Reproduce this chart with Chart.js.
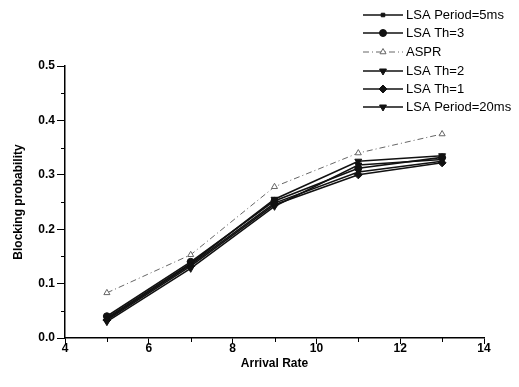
<!DOCTYPE html>
<html>
<head>
<meta charset="utf-8">
<script src="https://cdn.jsdelivr.net/npm/chart.js@4/dist/chart.umd.min.js"></script>
<style>
  html, body { margin: 0; padding: 0; background: #fff; }
  #wrap { width: 519px; height: 387px; position: relative; }
</style>
</head>
<body>
<div id="wrap"><canvas id="c" width="519" height="387"></canvas></div>
<script>
const arrivalRates = [5, 7, 9, 11, 13];
const lsaPeriod5 = [0.035, 0.135, 0.248, 0.305, 0.325];
const lsaTh3 = [0.040, 0.140, 0.252, 0.312, 0.332];
const aspr = [0.083, 0.153, 0.278, 0.340, 0.375];
const lsaTh2 = [0.030, 0.128, 0.242, 0.318, 0.328];
const lsaTh1 = [0.033, 0.132, 0.245, 0.300, 0.322];
const lsaPeriod20 = [0.037, 0.137, 0.255, 0.325, 0.335];

const xTicks = [4, 6, 8, 10, 12, 14];
const yTicks = [0.0, 0.1, 0.2, 0.3, 0.4, 0.5];

const pts = vals => vals.map((v, i) => ({ x: arrivalRates[i], y: v }));

const series = [
  { label: 'LSA Period=5ms', data: lsaPeriod5, style: 'rect', rot: 0, r: 2.5 },
  { label: 'LSA Th=3', data: lsaTh3, style: 'circle', rot: 0, r: 3.5 },
  { label: 'ASPR', data: aspr, style: 'triangle', rot: 0, r: 3.5, gray: true },
  { label: 'LSA Th=2', data: lsaTh2, style: 'triangle', rot: 180, r: 4 },
  { label: 'LSA Th=1', data: lsaTh1, style: 'rectRot', rot: 0, r: 4 },
  { label: 'LSA Period=20ms', data: lsaPeriod20, style: 'triangle', rot: 180, r: 4 }
];

const datasets = series.map(s => ({
  label: s.label,
  data: pts(s.data),
  borderColor: s.gray ? '#666' : '#111',
  borderWidth: s.gray ? 1 : 1.6,
  borderDash: s.gray ? [6, 3, 1, 3] : [],
  pointStyle: s.style,
  rotation: s.rot,
  pointRadius: s.r,
  pointBackgroundColor: s.gray ? '#fff' : '#111',
  pointBorderColor: s.gray ? '#666' : '#111',
  pointBorderWidth: 1,
  tension: 0,
  fill: false
}));

// minor ticks + legend drawn on canvas
const extras = {
  id: 'extras',
  afterDraw(chart) {
    const ctx = chart.ctx;
    const xs = chart.scales.x, ys = chart.scales.y;
    ctx.save();
    ctx.strokeStyle = '#000';
    ctx.lineWidth = 1;
    ctx.beginPath();
    [5, 7, 9, 11, 13].forEach(v => {
      const px = Math.round(xs.getPixelForValue(v)) + 0.5;
      ctx.moveTo(px, ys.bottom);
      ctx.lineTo(px, ys.bottom + 4);
    });
    [0.05, 0.15, 0.25, 0.35, 0.45].forEach(v => {
      const py = Math.round(ys.getPixelForValue(v)) + 0.5;
      ctx.moveTo(xs.left - 4, py);
      ctx.lineTo(xs.left, py);
    });
    ctx.stroke();

    // legend
    const rowY = [15, 33, 52, 71, 89, 107];
    ctx.font = '13px "Liberation Sans", Arial, sans-serif';
    ctx.textBaseline = 'middle';
    ctx.fillStyle = '#000';
    chart.data.datasets.forEach((ds, i) => {
      const y = rowY[i];
      ctx.save();
      ctx.strokeStyle = ds.borderColor;
      ctx.lineWidth = ds.borderWidth;
      ctx.setLineDash(ds.borderDash);
      ctx.beginPath();
      ctx.moveTo(363, y);
      ctx.lineTo(403, y);
      ctx.stroke();
      ctx.restore();
      ctx.save();
      ctx.fillStyle = ds.pointBackgroundColor;
      ctx.strokeStyle = ds.pointBorderColor;
      ctx.lineWidth = 1;
      Chart.helpers.drawPoint(ctx, {
        pointStyle: ds.pointStyle,
        rotation: ds.rotation,
        radius: ds.pointRadius,
        borderWidth: 1
      }, 383, y);
      ctx.restore();
      ctx.fillText(ds.label, 406, y);
    });
    ctx.restore();
  }
};

const tickFont = { family: '"Liberation Sans", Arial, sans-serif', size: 12, weight: 'bold' };
const titleFont = { family: '"Liberation Sans", Arial, sans-serif', size: 12, weight: 'bold' };

new Chart(document.getElementById('c'), {
  type: 'line',
  data: { datasets },
  options: {
    responsive: false,
    animation: false,
    layout: { padding: { left: 0, top: 66, right: 35, bottom: 0 } },
    plugins: { legend: { display: false }, tooltip: { enabled: false } },
    scales: {
      x: {
        type: 'linear',
        min: 4,
        max: 14,
        afterBuildTicks: axis => { axis.ticks = xTicks.map(v => ({ value: v })); },
        afterFit: axis => { axis.height = 49; },
        ticks: { color: '#000', font: tickFont, padding: -3, maxRotation: 0 },
        grid: { drawOnChartArea: false, color: '#000', tickLength: 6, tickWidth: 1 },
        border: { color: '#000', width: 1.5 },
        title: {
          display: true,
          text: 'Arrival Rate',
          color: '#000',
          font: titleFont,
          padding: { top: 0, bottom: 16 }
        }
      },
      y: {
        min: 0,
        max: 0.5,
        afterBuildTicks: axis => { axis.ticks = yTicks.map(v => ({ value: v })); },
        afterFit: axis => { axis.width = 65; },
        ticks: { color: '#000', font: tickFont, padding: 2, callback: v => v.toFixed(1) },
        grid: { drawOnChartArea: false, color: '#000', tickLength: 8, tickWidth: 1 },
        border: { color: '#000', width: 1.5 },
        title: {
          display: true,
          text: 'Blocking probability',
          color: '#000',
          font: titleFont,
          padding: { top: 11, bottom: 0 }
        }
      }
    }
  },
  plugins: [extras]
});
</script>
</body>
</html>
